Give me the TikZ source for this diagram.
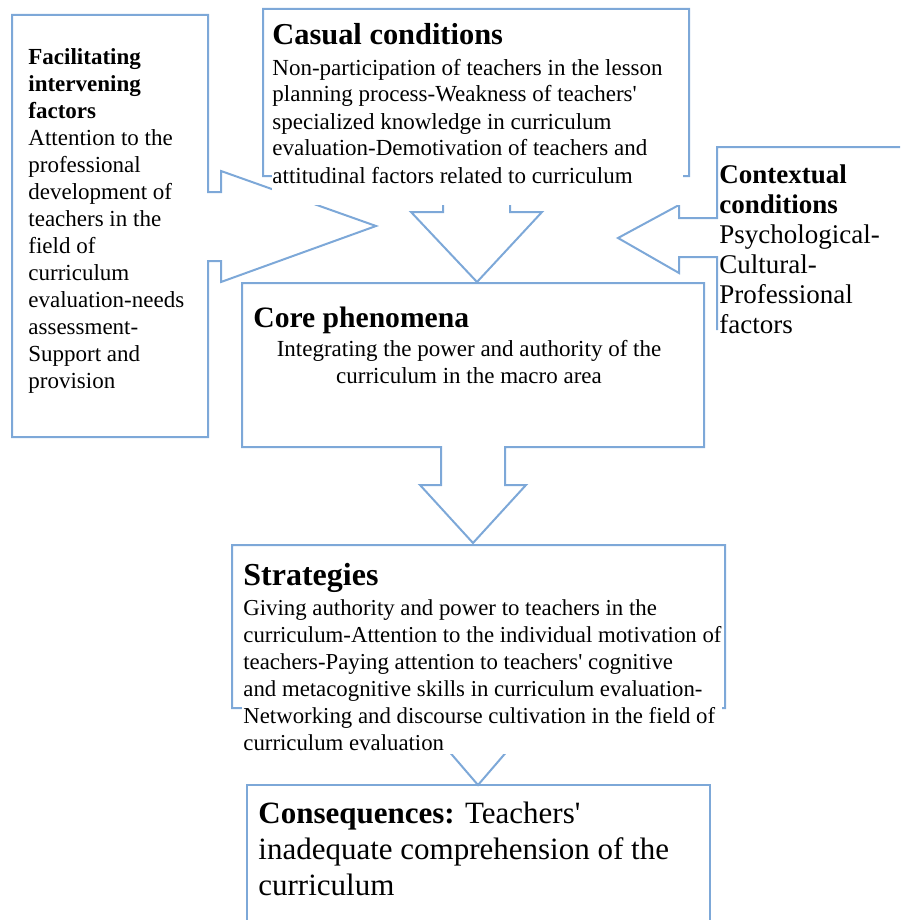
\documentclass[tikz,border=0pt]{standalone}
\usepackage{fontspec}
\setmainfont{Liberation Serif}
\definecolor{rahmen}{RGB}{125,168,216}
\tikzset{
	rahmen/.style={draw=rahmen, line width=1pt, line join=miter},
	txt/.style={inner sep=0pt, anchor=base west, align=left, font=\fontsize{11.5}{13.5}\selectfont},
}
\begin{document}
\begin{tikzpicture}[x=0.5pt, y=-0.5pt]
	\useasboundingbox (0,0) rectangle (900,920);
	
	%Pfeilspitzen
	\coordinate (facTip) at (376,226);
	\coordinate (casTip) at (477,282);
	\coordinate (ctxTip) at (618,238);
	\coordinate (coreTip) at (473,543);
	\coordinate (strTip) at (478,785);
	
	%Kasten links, Pfeil nach rechts
	\draw[rahmen] (208,15) -- (12,15) -- (12,437) -- (208,437) -- (208,261) -- (221,261) -- (221,282)
		-- (facTip) -- (221,171) -- (221,192) -- (208,192) -- cycle;
	%Kasten oben, Pfeil nach unten
	\draw[rahmen] (263,9) -- (689,9) -- (689,176) -- (510,176) -- (510,212) -- (542,212)
		-- (casTip) -- (411,212) -- (443,212) -- (443,176) -- (263,176) -- cycle;
	%Kasten rechts, Pfeil nach links
	\draw[rahmen] (900,147) -- (717,147) -- (717,218) -- (679,218) -- (679,205)
		-- (ctxTip) -- (679,273) -- (679,257) -- (717,257) -- (717,330);
	%Kasten Mitte
	\draw[rahmen] (242,283) -- (704,283) -- (704,447) -- (505,447) -- (505,485) -- (526,485)
		-- (coreTip) -- (420,485) -- (441,485) -- (441,447) -- (242,447) -- cycle;
	\draw[rahmen] (232,545) -- (725,545) -- (725,708) -- (501,708) -- (501,735) -- (521,735)
		-- (strTip) -- (435,735) -- (455,735) -- (455,708) -- (232,708) -- cycle;
	%Kasten unten
	\draw[rahmen] (247,925) -- (247,785) -- (710,785) -- (710,925);
	
	%Textfelder decken die Raender ab
	\fill[white] (272,170) rectangle (683,205);
	\fill[white] (242,700) rectangle (722,754);
	
	%Texte, jeweils an der Grundlinie der letzten Zeile
	\node[txt] (fac) at (28,388) {\textbf{Facilitating}\\ \textbf{intervening}\\ \textbf{factors}\\ Attention to the\\ professional\\ development of\\ teachers in the\\ field of\\ curriculum\\ evaluation-needs\\ assessment-\\ Support and\\ provision};
	
	\node[txt] (cas) at (272,183) {{\fontsize{15.2}{15}\selectfont\bfseries Casual conditions}\\[2pt] Non-participation of teachers in the lesson\\ planning process-Weakness of teachers\textquotesingle\\ specialized knowledge in curriculum\\ evaluation-Demotivation of teachers and\\ attitudinal factors related to curriculum};
	
	\node[txt, font=\fontsize{13.5}{15}\selectfont] (ctx) at (719,333) {\textbf{Contextual}\\ \textbf{conditions}\\ Psychological-\\ Cultural-\\ Professional\\ factors};
	
	\node[txt] (corehead) at (253,327) {\fontsize{14.8}{14}\selectfont\bfseries Core phenomena};
	\node[txt, anchor=base, align=center] (core) at (469,383) {Integrating the power and authority of the\\ curriculum in the macro area};
	
	\node[txt, font=\fontsize{11.4}{13.5}\selectfont] (str) at (243,750) {{\fontsize{16}{15}\selectfont\bfseries Strategies}\\[1.5pt] Giving authority and power to teachers in the\\ curriculum-Attention to the individual motivation of\\ teachers-Paying attention to teachers\textquotesingle{} cognitive\\ and metacognitive skills in curriculum evaluation-\\ Networking and discourse cultivation in the field of\\ curriculum evaluation};
	
	\node[txt, font=\fontsize{15.5}{18}\selectfont] (con) at (258,895) {\textbf{Consequences:} Teachers\textquotesingle\\ inadequate comprehension of the\\ curriculum};
\end{tikzpicture}
\end{document}
